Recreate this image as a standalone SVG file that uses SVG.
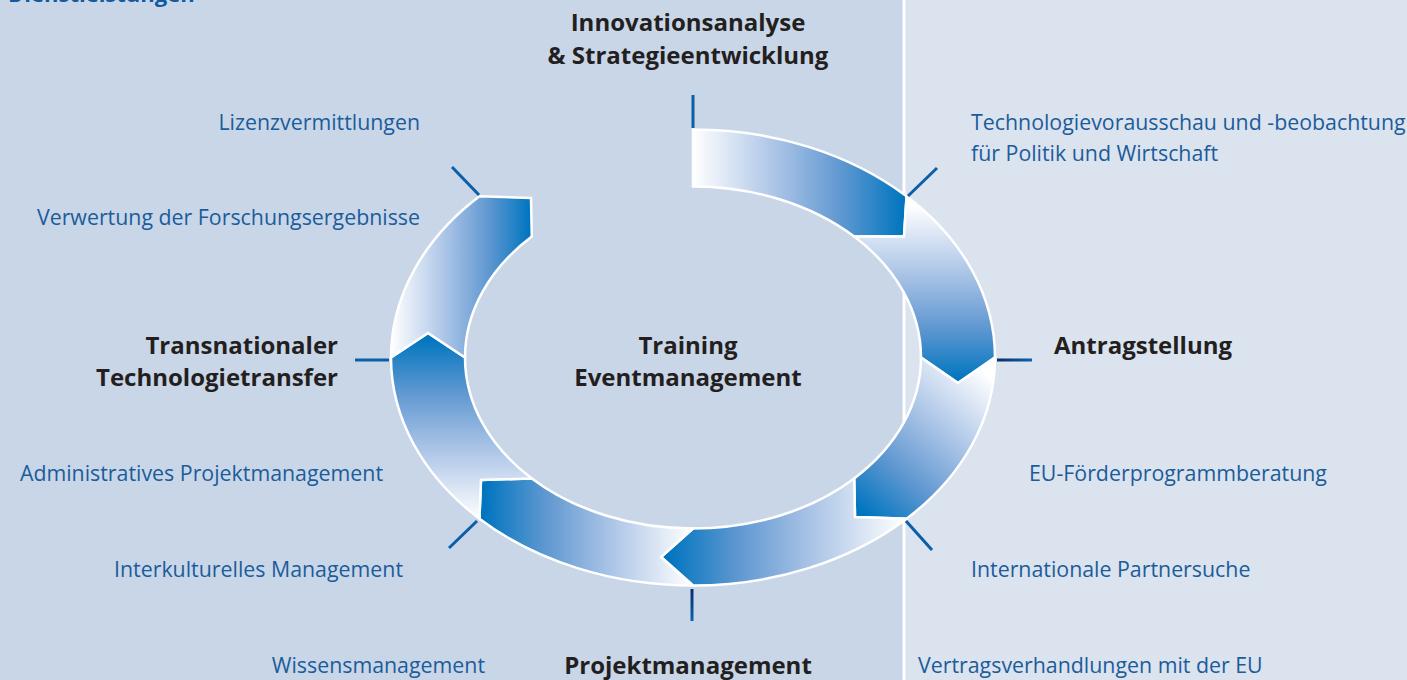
<svg xmlns="http://www.w3.org/2000/svg" width="1407" height="680" viewBox="0 0 1407 680">
<style>
.lbl{font-family:"Open Sans","Noto Sans",sans-serif;font-size:21.35px;fill:#1b5c9a}
.hd{font-family:"Open Sans","Noto Sans",sans-serif;font-size:24px;font-weight:bold;fill:#231f20}
.seg{stroke:#ffffff;stroke-width:2.5;stroke-linejoin:miter}
.tick{stroke:#0b5ea8;stroke-width:3;fill:none}
</style>
<defs>
<linearGradient id="base">
<stop offset="0" stop-color="#ffffff"/>
<stop offset="0.4" stop-color="#a9c3e6"/>
<stop offset="0.7" stop-color="#6098d1"/>
<stop offset="1" stop-color="#0075bf"/>
</linearGradient>
<linearGradient id="g1" href="#base" gradientUnits="userSpaceOnUse" x1="693" y1="0" x2="904" y2="0"/>
<linearGradient id="g2" href="#base" gradientUnits="userSpaceOnUse" x1="0" y1="205" x2="0" y2="380"/>
<linearGradient id="g3" href="#base" gradientUnits="userSpaceOnUse" x1="985" y1="372" x2="862" y2="512"/>
<linearGradient id="g4" href="#base" gradientUnits="userSpaceOnUse" x1="905" y1="0" x2="668" y2="0"/>
<linearGradient id="g5" href="#base" gradientUnits="userSpaceOnUse" x1="692" y1="0" x2="484" y2="0"/>
<linearGradient id="g6" href="#base" gradientUnits="userSpaceOnUse" x1="0" y1="520" x2="0" y2="338"/>
<linearGradient id="g7" href="#base" gradientUnits="userSpaceOnUse" x1="391" y1="0" x2="530" y2="0"/>
<linearGradient id="tickH" x1="0" y1="0" x2="1" y2="0">
<stop offset="0" stop-color="#0a2f66"/>
<stop offset="1" stop-color="#0b62b0"/>
</linearGradient>
<linearGradient id="tickV" gradientUnits="userSpaceOnUse" x1="0" y1="589" x2="0" y2="621">
<stop offset="0" stop-color="#0a2f66"/>
<stop offset="1" stop-color="#0b62b0"/>
</linearGradient>
</defs>

<g id="background">
<rect x="0" y="0" width="904" height="680" fill="#c9d6e8"/>
<rect x="904" y="0" width="503" height="680" fill="#dbe3ee"/>
<rect x="902.5" y="0" width="3" height="680" fill="#ffffff"/>
</g>

<g id="heading">
<text x="8" y="2" style="font-family:'Open Sans','Noto Sans',sans-serif;font-size:22px;font-weight:bold;fill:#0f5aa0">Dienstleistungen</text>
</g>

<g id="ring">
<path id="seg1" class="seg" fill="url(#g1)" d="M693,129.5 A302,228 0 0 1 906.55,196.28 L904,236.5 L854.22,236.58 A228,171 0 0 0 693,186.5 Z"/>
<path id="seg2" class="seg" fill="url(#g2)" d="M906.55,196.28 A302,228 0 0 1 995,357.5 L958,383 L921,357.5 A228,171 0 0 0 854.22,236.58 L904,236.5 Z"/>
<path id="seg3" class="seg" fill="url(#g3)" d="M995,357.5 A302,228 0 0 1 906.55,518.72 L855,517 L854.22,478.42 A228,171 0 0 0 921,357.5 L958,383 Z"/>
<path id="seg4" class="seg" fill="url(#g4)" d="M906.55,518.72 A302,228 0 0 1 693,585.5 L661,557 L693,528.5 A228,171 0 0 0 854.22,478.42 L855,517 Z"/>
<path id="seg5" class="seg" fill="url(#g5)" d="M693,585.5 A302,228 0 0 1 479.45,518.72 L481,480 L531.78,478.42 A228,171 0 0 0 693,528.5 L661,557 Z"/>
<path id="seg6" class="seg" fill="url(#g6)" d="M479.45,518.72 A302,228 0 0 1 391,357.5 L428,333 L465,357.5 A228,171 0 0 0 531.78,478.42 L481,480 Z"/>
<path id="seg7" class="seg" fill="url(#g7)" d="M391,357.5 A302,228 0 0 1 479.45,196.28 L531,198 L531.78,236.58 A228,171 0 0 0 465,357.5 L428,333 Z"/>
</g>

<g id="connectors">
<line class="tick" x1="693" y1="95" x2="693" y2="128"/>
<line class="tick" x1="908" y1="196" x2="937" y2="168"/>
<rect x="997" y="358.5" width="35" height="3" fill="url(#tickH)"/>
<line class="tick" x1="906" y1="521" x2="932" y2="550"/>
<line x1="692" y1="589" x2="692" y2="621" stroke="url(#tickV)" stroke-width="3"/>
<line class="tick" x1="477" y1="521" x2="449" y2="548"/>
<line class="tick" x1="355" y1="360" x2="389" y2="360"/>
<line class="tick" x1="452" y1="167" x2="479" y2="195"/>
</g>

<g id="node-innovation">
<text class="hd" x="688" y="31" text-anchor="middle">Innovationsanalyse</text>
<text class="hd" x="688" y="64" text-anchor="middle">&amp; Strategieentwicklung</text>
</g>
<g id="node-antrag">
<text class="hd" x="1054" y="354">Antragstellung</text>
</g>
<g id="node-projekt">
<text class="hd" x="688" y="674" text-anchor="middle">Projektmanagement</text>
</g>
<g id="node-transfer">
<text class="hd" x="338" y="354" text-anchor="end">Transnationaler</text>
<text class="hd" x="338" y="386" text-anchor="end">Technologietransfer</text>
</g>
<g id="node-center">
<text class="hd" x="688" y="354" text-anchor="middle">Training</text>
<text class="hd" x="688" y="386" text-anchor="middle">Eventmanagement</text>
</g>

<g id="labels-left">
<text class="lbl" x="420" y="130" text-anchor="end">Lizenzvermittlungen</text>
<text class="lbl" x="420" y="225" text-anchor="end">Verwertung der Forschungsergebnisse</text>
<text class="lbl" x="383" y="481" text-anchor="end">Administratives Projektmanagement</text>
<text class="lbl" x="403" y="577" text-anchor="end">Interkulturelles Management</text>
<text class="lbl" x="485" y="673" text-anchor="end">Wissensmanagement</text>
</g>
<g id="labels-right">
<text class="lbl" x="971" y="130">Technologievorausschau und -beobachtung</text>
<text class="lbl" x="971" y="161">für Politik und Wirtschaft</text>
<text class="lbl" x="1029" y="481">EU-Förderprogrammberatung</text>
<text class="lbl" x="971" y="577">Internationale Partnersuche</text>
<text class="lbl" x="918" y="673">Vertragsverhandlungen mit der EU</text>
</g>
</svg>
